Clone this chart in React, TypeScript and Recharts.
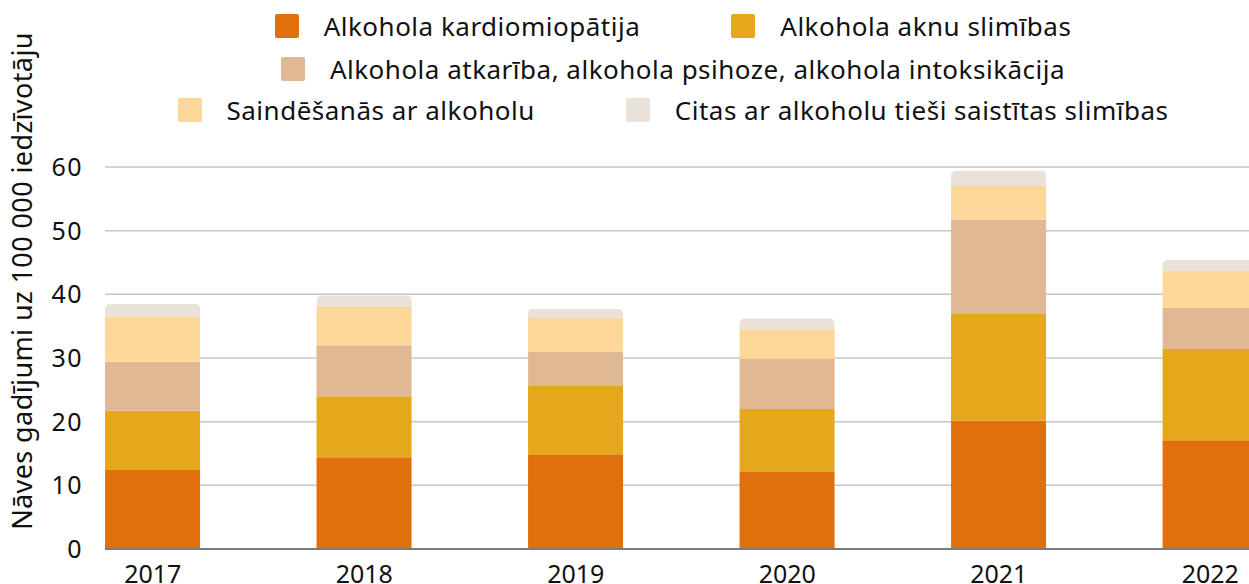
import React from 'react';
import { BarChart, Bar, XAxis, YAxis, CartesianGrid } from 'recharts';

const years = [2017, 2018, 2019, 2020, 2021, 2022];
const kardio = [12.4, 14.4, 14.9, 12.2, 20.2, 17.1];
const aknu = [9.3, 9.6, 10.7, 9.8, 16.7, 14.3];
const atkariba = [7.7, 8.0, 5.4, 7.9, 14.8, 6.5];
const saindesanas = [7.1, 6.0, 5.3, 4.6, 5.3, 5.8];
const citas = [2.0, 1.8, 1.4, 1.7, 2.4, 1.7];
const yTicks = [0, 10, 20, 30, 40, 50, 60];

const series = [
  { key: 'kardio', name: 'Alkohola kardiomiopātija', color: '#E0700B' },
  { key: 'aknu', name: 'Alkohola aknu slimības', color: '#E5A81D' },
  { key: 'atkariba', name: 'Alkohola atkarība, alkohola psihoze, alkohola intoksikācija', color: '#E0B994' },
  { key: 'saindesanas', name: 'Saindēšanās ar alkoholu', color: '#FDD699' },
  { key: 'citas', name: 'Citas ar alkoholu tieši saistītas slimības', color: '#EAE2D8' },
];

const legendRows = [
  ['kardio', 'aknu'],
  ['atkariba'],
  ['saindesanas', 'citas'],
];
const legendTops = [14, 57, 98];

const data = years.map((year, i) => ({
  year,
  kardio: kardio[i],
  aknu: aknu[i],
  atkariba: atkariba[i],
  saindesanas: saindesanas[i],
  citas: citas[i],
}));

const FONT = '"Noto Sans", sans-serif';

const App = () => {
  return (
    <div
      style={{
        position: 'fixed',
        top: 0,
        left: 0,
        width: 1249,
        height: 584,
        overflow: 'hidden',
        background: '#fff',
        fontFamily: FONT,
      }}
    >
      {/* legend, three centred rows */}
      {legendRows.map((row, r) => (
        <div
          key={r}
          style={{
            position: 'absolute',
            top: legendTops[r],
            left: 0,
            width: 1346,
            height: 24,
            display: 'flex',
            justifyContent: 'center',
            alignItems: 'center',
            gap: 91,
          }}
        >
          {row.map((k) => {
            const s = series.find((x) => x.key === k)!;
            return (
              <div key={k} style={{ display: 'flex', alignItems: 'center' }}>
                <div style={{ width: 24, height: 24, borderRadius: 2, background: s.color, marginRight: 25 }} />
                <span
                  style={{
                    fontSize: 26,
                    letterSpacing: 0.5,
                    color: '#111',
                    whiteSpace: 'nowrap',
                    lineHeight: '24px',
                  }}
                >
                  {s.name}
                </span>
              </div>
            );
          })}
        </div>
      ))}

      <div style={{ position: 'absolute', top: 0, left: 0 }}>
        <BarChart
          width={1300}
          height={600}
          data={data}
          margin={{ top: 167, right: 0, left: 0, bottom: 11 }}
        >
          <CartesianGrid vertical={false} stroke="#c6c6c6" strokeWidth={1.5} />
          <XAxis
            dataKey="year"
            type="number"
            domain={[2016.774, 2022.424]}
            allowDataOverflow
            ticks={years}
            interval={0}
            height={40}
            tickLine={false}
            tickSize={0}
            tickMargin={16}
            axisLine={{ stroke: '#7a7a7a', strokeWidth: 2 }}
            tick={{ fill: '#111', fontSize: 25, fontFamily: FONT }}
          />
          <YAxis
            width={105}
            domain={[0, 60]}
            ticks={yTicks}
            interval={0}
            axisLine={false}
            tickLine={false}
            tickSize={0}
            tickMargin={22}
            tick={{ fill: '#111', fontSize: 25, fontFamily: FONT, letterSpacing: 1.5 }}
            label={() => (
              <text
                x={32}
                y={281}
                transform="rotate(-90 32 281)"
                textAnchor="middle"
                fill="#111"
                fontSize={27}
                letterSpacing={0.4}
                fontFamily={FONT}
              >
                Nāves gadījumi uz 100 000 iedzīvotāju
              </text>
            )}
          />
          {series.map((s) => (
            <Bar
              key={s.key}
              dataKey={s.key}
              name={s.name}
              stackId="a"
              fill={s.color}
              barSize={95}
              radius={s.key === 'citas' ? [5, 5, 0, 0] : 0}
              isAnimationActive={false}
            />
          ))}
        </BarChart>
      </div>
    </div>
  );
};

export default App;
